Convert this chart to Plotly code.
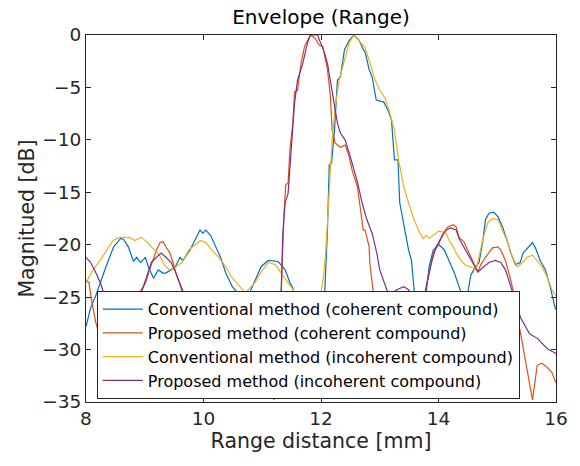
import plotly.graph_objects as go

# ---- data (range distance [mm], magnitude [dB]) ----
conv_coh_x = [8.0, 8.08, 8.17, 8.25, 8.34, 8.47, 8.59, 8.64, 8.72, 8.81, 8.86, 8.93, 9.01, 9.06,
              9.15, 9.23, 9.31, 9.36, 9.52, 9.6, 9.65, 9.77, 9.85, 9.94, 9.99, 10.04, 10.12, 10.21,
              10.29, 10.38, 10.49, 10.58, 10.66, 10.75, 10.88, 10.98, 11.1, 11.22, 11.27, 11.39,
              11.47, 11.52, 11.6, 11.75, 11.9, 12.0, 12.06, 12.11, 12.14, 12.18, 12.23, 12.28,
              12.33, 12.4, 12.48, 12.56, 12.65, 12.72, 12.75, 12.82, 12.87, 12.94, 13.07, 13.15,
              13.2, 13.25, 13.31, 13.34, 13.42, 13.49, 13.54, 13.59, 13.66, 13.72, 13.77, 13.84,
              13.91, 14.01, 14.1, 14.18, 14.27, 14.35, 14.42, 14.47, 14.55, 14.6, 14.69, 14.75,
              14.8, 14.86, 14.94, 15.02, 15.09, 15.18, 15.23, 15.31, 15.39, 15.44, 15.53, 15.6,
              15.65, 15.73, 15.82, 15.9, 15.98, 16.0]
conv_coh_y = [-27.8, -26.0, -24.8, -23.5, -22.1, -20.2, -19.4, -19.5, -20.2, -21.6, -21.2, -21.7, -21.2, -22.1,
              -23.2, -22.4, -22.7, -22.7, -22.1, -21.2, -21.5, -20.5, -19.6, -18.6, -18.9, -18.6, -19.1, -20.2,
              -21.2, -22.7, -24.0, -24.6, -24.8, -25.0, -23.4, -22.1, -21.5, -21.6, -21.6, -22.4,
              -23.6, -24.1, -26.5, -29.0, -30.0, -28.0, -25.0, -18.6, -12.4, -12.2, -9.1, -4.3,
              -4.0, -1.4, -0.5, 0.0, -0.5, -1.4, -1.6, -3.3, -4.0, -6.2, -6.4, -7.3,
              -8.1, -11.9, -11.9, -16.0, -18.6, -20.5, -21.5, -24.6, -26.5, -27.0, -25.5, -22.1,
              -20.5, -20.0, -20.5, -21.5, -22.7, -24.0, -25.0, -25.5, -22.9, -22.4, -21.7, -19.8,
              -17.6, -17.0, -16.9, -17.4, -18.3, -19.8, -20.8, -21.9, -21.7, -20.8, -20.2, -19.8,
              -20.3, -21.5, -22.4, -24.0, -25.9, -26.2]

prop_coh_x = [8.0, 8.05, 8.1, 8.17, 8.3, 8.5, 8.7, 8.85, 8.94, 9.01, 9.1, 9.15, 9.2, 9.26, 9.31,
              9.36, 9.43, 9.48, 9.53, 9.6, 9.65, 9.68, 9.75, 9.9, 10.1, 10.4, 10.7, 10.9, 11.1,
              11.2, 11.27, 11.32, 11.37, 11.4, 11.44, 11.47, 11.52, 11.55, 11.6, 11.66, 11.72,
              11.77, 11.82, 11.9, 11.97, 12.03, 12.08, 12.11, 12.14, 12.16, 12.19, 12.24, 12.33,
              12.41, 12.48, 12.53, 12.62, 12.67, 12.72, 12.75, 12.82, 12.83, 12.88, 12.9, 12.95,
              13.1, 13.3, 13.5, 13.65, 13.76, 13.84, 13.91, 14.0, 14.08, 14.16, 14.25, 14.3,
              14.35, 14.43, 14.5, 14.55, 14.6, 14.67, 14.72, 14.8, 14.92, 15.01, 15.06, 15.14,
              15.23, 15.28, 15.35, 15.45, 15.55, 15.6, 15.68, 15.76, 15.85, 15.93, 16.0]
prop_coh_y = [-23.4, -23.6, -25.5, -27.5, -30.0, -31.0, -29.0, -25.5, -24.3, -23.7, -22.1, -21.2, -20.5, -19.8, -19.7,
              -20.2, -20.8, -21.7, -22.7, -23.7, -24.3, -24.8, -27.0, -30.0, -31.0, -32.0, -30.0, -29.0, -31.0,
              -34.8, -30.0, -25.0, -17.0, -14.3, -14.1, -11.0, -8.4, -5.4, -5.3, -2.7, -1.1,
              -0.5, 0.0, -0.3, -0.95, -1.1, -2.4, -3.3, -4.8, -5.9, -9.1, -10.3, -10.7,
              -10.5, -11.6, -12.9, -14.5, -16.7, -18.6, -18.6, -20.2, -21.7, -24.0, -25.0, -28.0,
              -30.0, -31.0, -30.0, -28.0, -25.0, -22.9, -20.8, -20.0, -18.9, -18.3, -18.1, -18.3,
              -19.3, -19.7, -20.5, -21.2, -21.7, -22.6, -21.9, -21.2, -20.3, -20.2, -20.5, -21.5,
              -23.4, -24.6, -27.0, -30.0, -33.0, -34.8, -31.5, -31.3, -31.7, -32.2, -33.2]

conv_inc_x = [8.0, 8.12, 8.24, 8.35, 8.46, 8.57, 8.74, 8.83, 8.94, 9.03, 9.13, 9.25, 9.33, 9.42,
              9.53, 9.63, 9.75, 9.87, 9.95, 10.04, 10.14, 10.26, 10.38, 10.48, 10.59, 10.71, 10.76,
              10.88, 10.98, 11.1, 11.22, 11.32, 11.44, 11.55, 11.6, 11.7, 11.85, 11.95, 11.98,
              12.03, 12.08, 12.11, 12.16, 12.19, 12.24, 12.31, 12.4, 12.48, 12.56, 12.67, 12.75,
              12.83, 12.92, 13.0, 13.09, 13.17, 13.25, 13.32, 13.41, 13.49, 13.57, 13.68, 13.74,
              13.79, 13.84, 13.91, 14.0, 14.08, 14.13, 14.18, 14.25, 14.3, 14.38, 14.47, 14.55,
              14.64, 14.69, 14.75, 14.84, 14.92, 15.01, 15.09, 15.18, 15.26, 15.34, 15.43, 15.51,
              15.6, 15.68, 15.76, 15.85, 15.93, 16.0]
conv_inc_y = [-23.6, -22.4, -21.5, -20.5, -19.6, -19.3, -19.3, -19.6, -19.3, -19.7, -20.3, -21.0, -21.9, -22.4,
              -22.1, -21.7, -20.5, -20.0, -19.6, -19.8, -20.5, -21.2, -22.1, -23.1, -23.8, -24.6, -24.3,
              -23.6, -22.6, -21.7, -21.9, -22.7, -23.7, -24.5, -24.8, -26.0, -27.0, -26.5, -25.0,
              -23.6, -20.8, -17.6, -12.9, -10.0, -6.9, -4.3, -2.4, -0.76, 0.0, -0.7, -1.2,
              -2.6, -4.3, -5.25, -6.0, -7.4, -9.1, -11.9, -14.5, -16.0, -17.4, -18.9, -19.4,
              -19.1, -19.4, -19.1, -18.7, -18.8, -18.9, -19.6, -20.2, -20.8, -21.5, -22.0, -22.1,
              -22.4, -21.2, -19.6, -17.9, -17.5, -17.6, -18.6, -19.8, -21.2, -22.1, -21.7, -21.2,
              -21.0, -21.5, -22.1, -23.1, -24.3, -24.9]

prop_inc_x = [8.0, 8.08, 8.17, 8.25, 8.3, 8.4, 8.6, 8.8, 8.92, 8.94, 9.03, 9.11, 9.2, 9.28, 9.36,
              9.45, 9.53, 9.62, 9.65, 9.75, 10.0, 10.3, 10.6, 10.9, 11.1, 11.25, 11.32, 11.35,
              11.39, 11.44, 11.49, 11.55, 11.6, 11.69, 11.77, 11.82, 11.94, 11.99, 12.06, 12.11,
              12.16, 12.23, 12.28, 12.33, 12.41, 12.48, 12.53, 12.62, 12.7, 12.78, 12.87, 12.95,
              13.0, 13.07, 13.12, 13.17, 13.29, 13.41, 13.49, 13.58, 13.65, 13.72, 13.79, 13.88,
              13.96, 14.05, 14.13, 14.21, 14.3, 14.35, 14.43, 14.52, 14.6, 14.67, 14.75, 14.86,
              14.97, 15.06, 15.14, 15.23, 15.28, 15.4, 15.55, 15.7, 15.76, 15.87, 15.98, 16.0]
prop_inc_y = [-21.2, -21.7, -22.7, -23.7, -24.6, -27.0, -29.0, -27.5, -25.5, -24.6, -23.1, -21.7, -21.2, -20.8, -21.2,
              -21.7, -22.7, -24.0, -24.6, -27.0, -29.0, -30.0, -29.5, -28.5, -28.0, -27.0, -25.0, -18.9,
              -16.0, -15.1, -11.0, -6.5, -4.3, -2.7, -0.76, 0.0, 0.0, -0.7, -1.7, -2.7,
              -4.3, -6.5, -8.4, -9.35, -10.0, -11.25, -12.2, -14.0, -16.0, -17.6, -18.9, -20.8,
              -22.4, -23.6, -24.3, -24.8, -24.3, -24.0, -24.3, -25.0, -27.0, -27.5, -24.0, -21.7,
              -20.2, -19.3, -18.6, -18.4, -18.6, -19.4, -20.2, -21.0, -21.9, -22.6, -22.2, -21.7,
              -21.5, -21.7, -22.4, -24.0, -25.0, -27.0, -28.5, -29.0, -29.4, -30.0, -30.3, -30.4]

names = ["Conventional method (coherent compound)",
         "Proposed method (coherent compound)",
         "Conventional method (incoherent compound)",
         "Proposed method (incoherent compound)"]
colors = ["#0072BD", "#D95319", "#EDB120", "#7E2F8E"]
series = [(conv_coh_x, conv_coh_y), (prop_coh_x, prop_coh_y),
          (conv_inc_x, conv_inc_y), (prop_inc_x, prop_inc_y)]

x_ticks = [8, 10, 12, 14, 16]
y_ticks = [0, -5, -10, -15, -20, -25, -30, -35]

FONT = "DejaVu Sans"
AXC = "#262626"

fig = go.Figure()
for (xs, ys), nm, c in zip(series, names, colors):
    fig.add_trace(go.Scatter(x=xs, y=ys, mode="lines", name=nm,
                             line=dict(color=c, width=1.2)))

fig.update_layout(
    width=580, height=466,
    margin=dict(l=86, r=19, t=35, b=64),
    paper_bgcolor="white", plot_bgcolor="white",
    font=dict(family=FONT, size=17, color=AXC),
    title=dict(text="Envelope (Range)", x=0.5, xref="paper", xanchor="center",
               y=1 - 17 / 466, yref="container", yanchor="middle",
               font=dict(family=FONT, size=20, color="#000000")),
    showlegend=True,
    legend=dict(x=0.023, y=0.302, xanchor="left", yanchor="top",
                bgcolor="white", bordercolor=AXC, borderwidth=1,
                font=dict(family=FONT, size=16, color="#000000"),
                itemwidth=40, tracegroupgap=0),
)
fig.update_xaxes(range=[8, 16], tickvals=x_ticks, ticks="inside", ticklen=5,
                 showline=True, linecolor=AXC, linewidth=1, mirror="ticks",
                 showgrid=False, zeroline=False, tickcolor=AXC,
                 tickfont=dict(family=FONT, size=18.5, color=AXC),
                 title=dict(text="Range distance [mm]", standoff=4,
                            font=dict(family=FONT, size=20.5, color=AXC)))
fig.update_yaxes(range=[-35, 0], tickvals=y_ticks, ticks="inside", ticklen=5,
                 showline=True, linecolor=AXC, linewidth=1, mirror="ticks",
                 showgrid=False, zeroline=False, tickcolor=AXC,
                 tickfont=dict(family=FONT, size=18.5, color=AXC),
                 title=dict(text="Magnitued [dB]", standoff=2,
                            font=dict(family=FONT, size=20.5, color=AXC)))

fig.write_html("out.html", config={"displayModeBar": False},
               post_script="document.body.style.margin='0';document.body.style.padding='0';")
